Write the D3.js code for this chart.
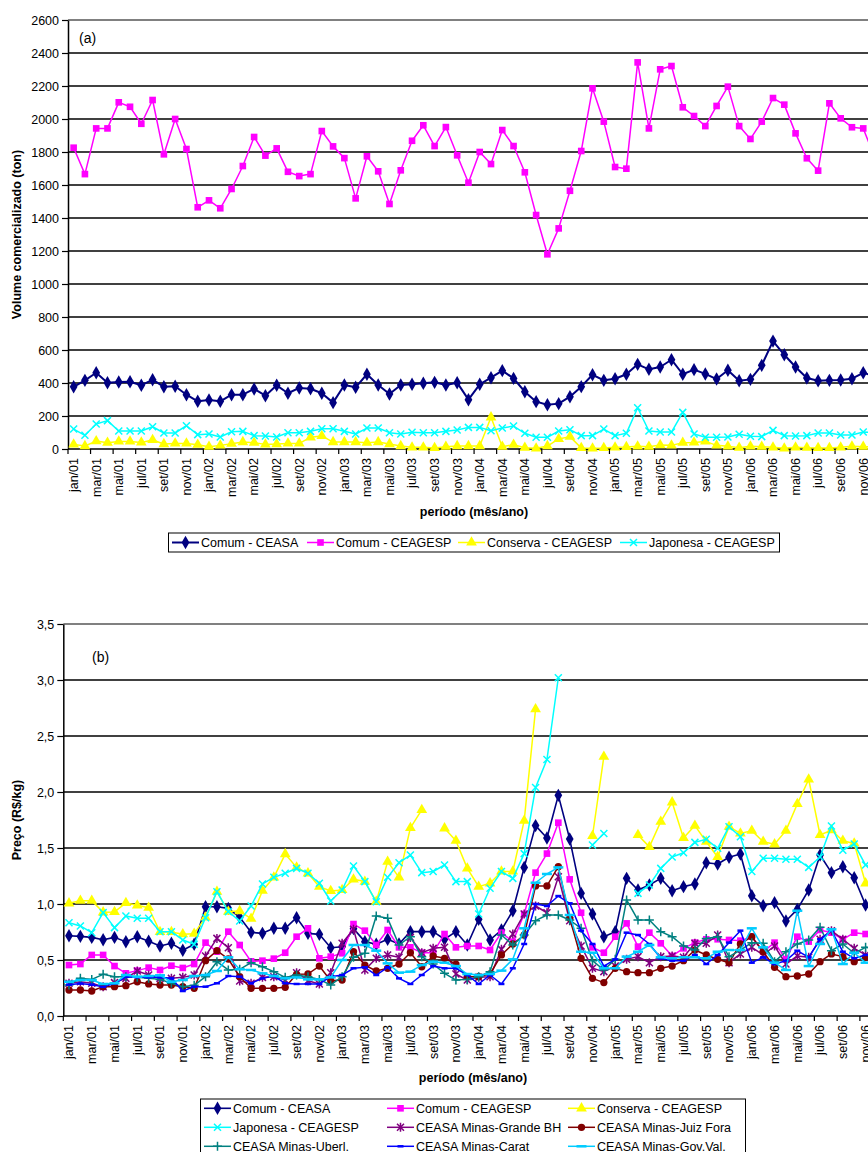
<!DOCTYPE html>
<html><head><meta charset="utf-8">
<script src="https://cdn.jsdelivr.net/npm/d3@7"></script>
<style>
body{margin:0;background:#fff;overflow:hidden}
svg{display:block}
text{font-family:"Liberation Sans",Arial,Helvetica,sans-serif;fill:#000}
</style>
</head><body>
<svg id="c" width="900" height="1152"></svg>
<script>
// ---------- categories ----------
const monthNames = ["jan","fev","mar","abr","mai","jun","jul","ago","set","out","nov","dez"];
const years = ["01","02","03","04","05","06"];
const months = years.flatMap(y => monthNames.map(m => m + "/" + y));

// ---------- tick labels ----------
const volTicks = [0,200,400,600,800,1000,1200,1400,1600,1800,2000,2200,2400,2600];
const priceTicks = [0,0.5,1.0,1.5,2.0,2.5,3.0,3.5];

// ---------- panel (a): volume (ton) ----------
const volCeasa = [377,416,462,402,406,408,386,420,377,380,329,289,297,289,329,329,364,323,386,338,370,
  365,338,281,388,374,453,388,333,388,392,398,404,388,402,299,392,432,475,428,347,287,268,275,317,378,
  450,416,426,453,513,483,497,541,453,481,455,424,477,414,422,507,654,571,497,430,414,416,418,426,462,440];
const volCeagesp = [1826,1666,1943,1943,2101,2074,1971,2115,1786,2000,1818,1465,1507,1459,1576,1715,1891,1778,1822,1680,1654,
  1666,1927,1834,1763,1519,1774,1683,1485,1689,1868,1962,1836,1951,1780,1614,1800,1727,1933,1836,1677,1418,1180,1337,1565,1806,
  2186,1984,1709,1699,2343,1943,2301,2321,2071,2018,1957,2079,2196,1957,1879,1984,2127,2087,1913,1762,1687,2095,2004,1950,1943,1770];
const volConserva = [28,18,48,38,46,46,40,55,30,34,34,26,14,22,32,42,38,28,30,34,34,
  71,79,42,42,42,38,42,30,18,10,10,6,14,18,18,18,192,14,26,8,4,18,61,75,6,
  4,6,10,12,16,14,24,22,38,40,46,22,16,8,16,14,10,4,10,8,6,6,10,16,14,12];
const volJaponesa = [121,83,152,172,109,109,109,135,97,97,141,87,91,73,105,107,81,79,73,99,99,
  107,123,123,107,91,127,127,99,91,101,99,99,107,115,131,131,111,127,139,95,71,71,109,117,81,
  81,121,81,95,250,109,103,103,222,91,71,71,73,89,77,75,113,81,79,81,97,97,85,85,103,100];

// ---------- panel (b): price (R$/kg) ----------
const N = null;
const prCeasa = [0.717,0.711,0.702,0.681,0.702,0.663,0.708,0.667,0.625,0.649,0.587,0.640,0.976,0.976,0.961,0.881,0.747,0.738,0.783,0.783,0.878,
  0.738,0.729,0.610,0.619,0.780,0.664,0.640,0.685,0.643,0.753,0.753,0.753,0.685,0.753,0.634,0.863,0.679,0.768,0.940,1.327,1.700,1.590,1.970,1.580,1.095,
  0.911,0.708,0.753,1.229,1.125,1.170,1.229,1.119,1.155,1.179,1.369,1.357,1.417,1.446,1.074,0.985,1.012,0.848,0.952,1.125,1.437,1.280,1.333,1.235,0.991,0.950];
const prCeagesp = [0.455,0.464,0.545,0.545,0.446,0.381,0.405,0.432,0.411,0.449,0.429,0.464,0.655,0.574,0.753,0.634,0.488,0.494,0.512,0.565,0.708,
  0.783,0.515,0.530,0.560,0.821,0.762,0.634,0.768,0.613,0.613,0.565,0.565,0.732,0.613,0.625,0.625,0.589,0.744,0.664,0.911,1.280,1.450,1.726,1.220,0.922,
  0.613,0.565,0.708,0.827,0.619,0.744,0.649,0.536,0.604,0.655,0.685,0.685,0.679,0.673,0.708,0.574,0.655,0.506,0.708,0.664,0.768,0.744,0.685,0.744,0.732,0.730];
const prConserva = [1.006,1.030,1.030,0.926,0.929,1.009,0.988,0.967,0.750,0.750,0.730,0.735,0.880,1.110,0.932,0.937,0.869,1.119,1.238,1.446,1.327,
  1.274,1.155,1.116,1.125,1.220,1.200,1.020,1.378,1.238,1.680,1.840,N,1.676,1.565,1.318,1.155,1.185,1.290,1.290,1.744,2.740,N,N,N,N,
  1.607,2.315,N,N,1.616,1.510,1.735,1.908,1.590,1.700,1.556,1.420,1.690,1.630,1.655,1.556,1.533,1.655,1.893,2.113,1.616,1.660,1.565,1.540,1.185,1.100];
const prJaponesa = [0.833,0.804,0.744,0.923,0.789,0.893,0.872,0.872,0.753,0.753,0.679,0.640,0.878,1.110,0.932,0.848,0.982,1.179,1.238,1.274,1.318,
  1.274,1.185,1.027,1.125,1.339,1.200,1.020,1.238,1.369,1.437,1.280,1.290,1.348,1.200,1.200,0.911,1.140,1.290,1.229,1.450,2.040,2.290,3.020,N,N,
  1.527,1.630,N,N,1.095,1.170,1.318,1.420,1.458,1.550,1.578,1.497,1.690,1.600,1.290,1.408,1.408,1.399,1.399,1.327,1.420,1.696,1.480,1.536,1.348,1.300];
const prGrandeBH = [0.292,0.306,0.292,0.262,0.298,0.336,0.402,0.366,0.336,0.336,0.345,0.366,0.536,0.693,0.610,0.313,0.292,0.345,0.351,0.321,0.387,
  0.315,0.286,0.387,0.649,0.774,0.411,0.515,0.545,0.524,0.702,0.565,0.604,0.613,0.375,0.321,0.345,0.351,0.595,0.732,0.911,0.982,0.922,1.244,0.851,0.625,
  0.426,0.396,0.446,0.506,0.530,0.476,0.530,0.536,0.524,0.649,0.649,0.723,0.476,0.554,0.613,0.545,0.625,0.464,0.536,0.524,0.685,0.762,0.685,0.604,0.545,0.540];
const prJuizFora = [0.232,0.232,0.223,0.262,0.262,0.271,0.306,0.286,0.277,0.277,0.262,0.247,0.494,0.583,0.509,0.351,0.247,0.247,0.247,0.256,0.372,
  0.375,0.446,0.315,0.321,0.574,0.455,0.402,0.426,0.464,0.565,0.440,0.536,0.515,0.464,0.351,0.351,0.375,0.545,0.643,0.723,1.161,1.161,1.333,0.872,0.515,
  0.336,0.298,0.426,0.396,0.387,0.387,0.426,0.446,0.494,0.589,0.545,0.506,0.476,0.643,0.708,0.574,0.435,0.351,0.357,0.375,0.485,0.554,0.530,0.485,0.524,0.520];
const prUberl = [0.277,0.336,0.327,0.372,0.351,0.351,0.345,0.336,0.327,0.292,0.262,0.274,0.351,0.485,0.411,0.417,0.476,0.440,0.396,0.345,0.366,
  0.351,0.327,0.277,0.351,0.524,0.560,0.893,0.872,0.634,0.708,0.530,0.464,0.381,0.321,0.327,0.351,0.396,0.723,0.634,0.723,0.851,0.902,0.902,0.857,0.783,
  0.494,0.411,0.506,1.036,0.857,0.857,0.753,0.708,0.625,0.589,0.693,0.708,0.530,0.589,0.655,0.649,0.485,0.574,0.643,0.679,0.792,0.583,0.643,0.560,0.613,0.600];
const prCarat = [0.280,0.290,0.280,0.260,0.290,0.350,0.345,0.345,0.345,0.336,0.223,0.262,0.262,0.292,0.357,0.351,0.292,0.336,0.357,0.292,0.286,
  0.286,0.286,0.351,0.366,0.426,0.435,0.366,0.435,0.336,0.286,0.366,0.446,0.426,0.426,0.366,0.286,0.366,0.286,0.426,0.643,1.000,0.982,1.071,1.006,0.762,
  0.643,0.446,0.506,0.744,0.723,0.643,0.515,0.494,0.494,0.545,0.464,0.545,0.655,0.762,0.476,0.524,0.464,0.494,0.583,0.524,0.685,0.762,0.574,0.515,0.545,0.540];
const prGovVal = [0.306,0.321,0.321,0.286,0.292,0.366,0.351,0.357,0.363,0.306,0.321,0.357,0.366,0.402,0.524,0.417,0.411,0.381,0.357,0.336,0.345,
  0.327,0.327,0.345,0.500,0.634,0.634,0.583,0.470,0.387,0.396,0.455,0.485,0.476,0.446,0.375,0.366,0.375,0.405,0.506,0.783,1.190,1.268,1.327,0.902,0.574,
  0.565,0.426,0.426,0.530,0.574,0.634,0.524,0.515,0.524,0.524,0.515,0.574,0.589,0.589,0.783,0.613,0.476,0.411,0.940,0.446,0.643,0.774,0.464,0.565,0.476,0.480];

// ---------- drawing ----------
const svg = d3.select("#c");
const FONT = 12.5;

const markerDefs = {
  diamond:  {d: d3.symbol(d3.symbolDiamond, 52)(), fill: true},
  square:   {d: d3.symbol(d3.symbolSquare, 44)(), fill: true},
  triangle: {d: d3.symbol(d3.symbolTriangle, 50)(), fill: true},
  circle:   {d: d3.symbol(d3.symbolCircle, 42)(), fill: true},
  x:        {d: "M-3.5,-3.5L3.5,3.5M-3.5,3.5L3.5,-3.5", fill: false, w: 1.5},
  star:     {d: "M-3.5,-3.5L3.5,3.5M-3.5,3.5L3.5,-3.5M0,-4.5V4.5", fill: false, w: 1.5},
  plus:     {d: "M-4.5,0H4.5M0,-4.5V4.5", fill: false, w: 1.5},
  dash:     {d: "M-3,0H3", fill: false, w: 2.5},
  longdash: {d: "M-5,0H5", fill: false, w: 2.5}
};

function styleMarker(sel, type, color) {
  const m = markerDefs[type];
  sel.attr("d", m.d);
  if (m.fill) sel.attr("fill", color).attr("stroke", "none");
  else sel.attr("fill", "none").attr("stroke", color).attr("stroke-width", m.w);
}

function drawPanel(cfg) {
  const g = svg.append("g");
  const x = d3.scaleBand().domain(months).range([cfg.left, cfg.left + months.length * cfg.step]);
  const cx = m => x(m) + x.bandwidth() / 2;
  const y = d3.scaleLinear().domain(cfg.yDomain).range([cfg.bottom, cfg.top]);
  const right = x.range()[1];

  // gridlines
  g.append("g").selectAll("line").data(cfg.ticks.filter(t => t > cfg.yDomain[0]))
    .join("line")
    .attr("x1", cfg.left).attr("x2", right)
    .attr("y1", d => y(d)).attr("y2", d => y(d))
    .attr("stroke", d => d === cfg.yDomain[1] ? "#808080" : "#000")
    .attr("stroke-width", d => d === cfg.yDomain[1] ? 2 : 1.6);

  // y axis
  const ya = g.append("g").attr("transform", `translate(${cfg.left},0)`)
    .call(d3.axisLeft(y).tickValues(cfg.ticks).tickFormat(cfg.fmt).tickSize(6).tickSizeOuter(0).tickPadding(3));
  ya.select(".domain").attr("stroke", "#000").attr("stroke-width", 1.5);
  ya.selectAll(".tick line").attr("stroke", "#000").attr("stroke-width", 1.2);
  ya.selectAll(".tick text").style("font-size", FONT + "px").attr("fill", "#000")
    .style("font-family", '"Liberation Sans",Arial,sans-serif');

  // x axis line
  g.append("line").attr("x1", cfg.left).attr("x2", right)
    .attr("y1", cfg.bottom).attr("y2", cfg.bottom).attr("stroke", "#000").attr("stroke-width", 1.5);
  // tick marks at every second category boundary
  g.append("g").selectAll("line").data(months.filter((m, i) => i % 2 === 0))
    .join("line")
    .attr("x1", d => x(d)).attr("x2", d => x(d))
    .attr("y1", cfg.bottom).attr("y2", cfg.bottom + 5)
    .attr("stroke", "#000").attr("stroke-width", 1.2);
  // labels
  g.append("g").selectAll("text").data(months.filter((m, i) => i % 2 === 0))
    .join("text")
    .attr("transform", d => `translate(${cx(d)},${cfg.bottom + 9}) rotate(-90)`)
    .attr("text-anchor", "end").attr("dy", "0.35em")
    .style("font-size", FONT + "px")
    .text(d => d);

  // titles
  g.append("text").attr("transform", `translate(${cfg.yTitleX},${(cfg.top + cfg.bottom) / 2}) rotate(-90)`)
    .attr("text-anchor", "middle").attr("dy", "0.35em")
    .style("font-size", FONT + "px").style("font-weight", "bold").text(cfg.yTitle);
  g.append("text").attr("x", cfg.xTitleX).attr("y", cfg.xTitleY)
    .attr("text-anchor", "middle").attr("dy", "0.35em")
    .style("font-size", FONT + "px").style("font-weight", "bold").text("período (mês/ano)");
  g.append("text").attr("x", cfg.tag[0]).attr("y", cfg.tag[1]).attr("dy", "0.35em")
    .style("font-size", "14px").text(cfg.tag[2]);

  // series
  const line = d3.line().defined(d => d.v != null).x(d => cx(d.m)).y(d => y(d.v));
  cfg.series.forEach(s => {
    const pts = months.map((m, i) => ({m, v: s.values[i]}));
    const sg = g.append("g");
    sg.append("path").attr("d", line(pts)).attr("fill", "none")
      .attr("stroke", s.color).attr("stroke-width", s.lw || 1.5).attr("stroke-linejoin", "round");
    sg.selectAll("path.mk").data(pts.filter(p => p.v != null)).join("path").attr("class", "mk")
      .attr("transform", d => `translate(${cx(d.m)},${y(d.v)})`)
      .call(sel => styleMarker(sel, s.marker, s.color));
  });

  // legend
  const L = cfg.legend;
  g.append("rect").attr("x", L.x).attr("y", L.y).attr("width", L.w).attr("height", L.h)
    .attr("fill", "#fff").attr("stroke", "#000").attr("stroke-width", 1);
  const items = g.append("g").selectAll("g").data(cfg.series).join("g")
    .attr("transform", (d, i) => `translate(${L.pos[i][0]},${L.pos[i][1]})`);
  items.append("line").attr("x1", 0).attr("x2", 27).attr("y1", 0).attr("y2", 0)
    .attr("stroke", d => d.color).attr("stroke-width", d => d.lw || 1.5);
  items.append("path").attr("transform", "translate(13.5,0)")
    .each(function(d) { styleMarker(d3.select(this), d.marker, d.color); });
  items.append("text").attr("x", 29).attr("dy", "0.35em").style("font-size", FONT + "px").text(d => d.name);
}

drawPanel({
  left: 68, step: 11.28, top: 20, bottom: 449,
  yDomain: [0, 2600], ticks: volTicks, fmt: d3.format("d"),
  yTitle: "Volume comercializado (ton)", yTitleX: 17,
  xTitleX: 474, xTitleY: 512, tag: [79, 38, "(a)"],
  series: [
    {name: "Comum - CEASA", values: volCeasa, color: "#000080", marker: "diamond", lw: 2},
    {name: "Comum - CEAGESP", values: volCeagesp, color: "#FF00FF", marker: "square"},
    {name: "Conserva - CEAGESP", values: volConserva, color: "#FFFF00", marker: "triangle"},
    {name: "Japonesa - CEAGESP", values: volJaponesa, color: "#00FFFF", marker: "x"}
  ],
  legend: {x: 168.5, y: 533, w: 611, h: 19,
    pos: [[172, 542.5], [307, 542.5], [458, 542.5], [620, 542.5]]}
});

const commaFmt = d => d3.format(".1f")(d).replace(".", ",");
drawPanel({
  left: 63.3, step: 11.38, top: 624, bottom: 1016,
  yDomain: [0, 3.5], ticks: priceTicks, fmt: commaFmt,
  yTitle: "Preço (R$/kg)", yTitleX: 17,
  xTitleX: 473, xTitleY: 1078, tag: [92, 657, "(b)"],
  series: [
    {name: "Comum - CEASA", values: prCeasa, color: "#000080", marker: "diamond", lw: 1.6},
    {name: "Comum - CEAGESP", values: prCeagesp, color: "#FF00FF", marker: "square"},
    {name: "Conserva - CEAGESP", values: prConserva, color: "#FFFF00", marker: "triangle"},
    {name: "Japonesa - CEAGESP", values: prJaponesa, color: "#00FFFF", marker: "x"},
    {name: "CEASA Minas-Grande BH", values: prGrandeBH, color: "#800080", marker: "star"},
    {name: "CEASA Minas-Juiz Fora", values: prJuizFora, color: "#800000", marker: "circle"},
    {name: "CEASA Minas-Uberl.", values: prUberl, color: "#008080", marker: "plus"},
    {name: "CEASA Minas-Carat", values: prCarat, color: "#0000FF", marker: "dash"},
    {name: "CEASA Minas-Gov.Val.", values: prGovVal, color: "#00CCFF", marker: "longdash"}
  ],
  legend: {x: 200.5, y: 1099, w: 545, h: 70,
    pos: [[204, 1108.3], [387, 1108.3], [568, 1108.3],
          [204, 1127.3], [387, 1127.3], [568, 1127.3],
          [204, 1146.3], [387, 1146.3], [568, 1146.3]]}
});
</script>
</body></html>
